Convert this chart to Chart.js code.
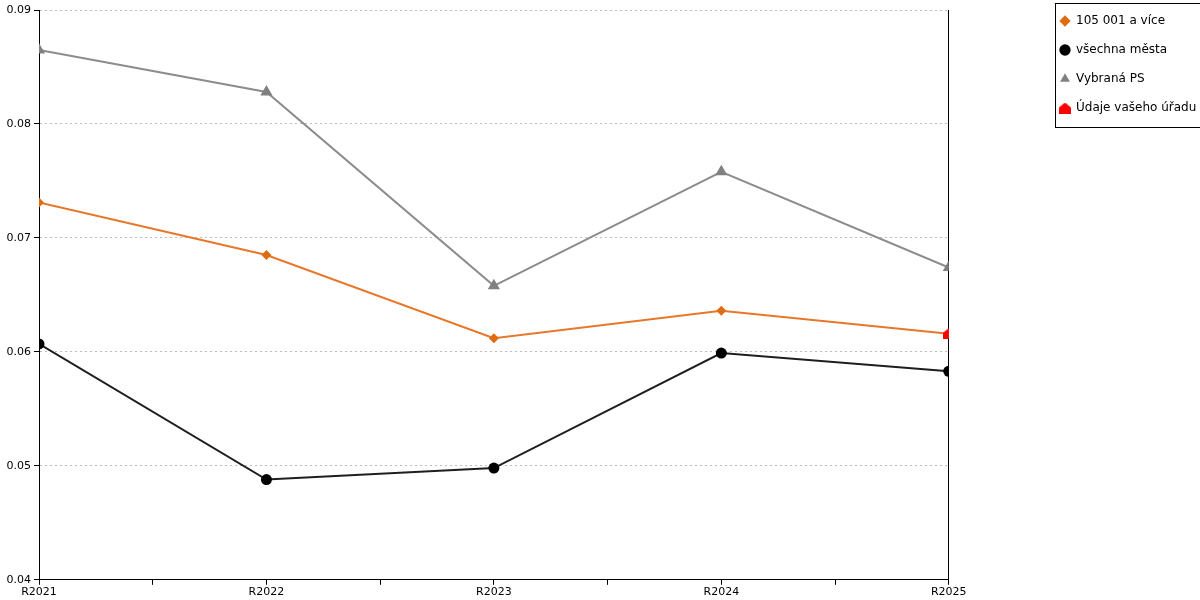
<!DOCTYPE html>
<html>
<head>
<meta charset="utf-8">
<script src="https://cdn.jsdelivr.net/npm/chart.js@4.4.1/dist/chart.umd.min.js"></script>
<style>
  html, body { margin: 0; padding: 0; background: #fff; }
  #wrap { width: 1200px; height: 600px; }
</style>
</head>
<body>
<div id="wrap"><canvas id="chart"></canvas></div>
<script>
// data
const years = ['R2021', 'R2022', 'R2023', 'R2024', 'R2025'];
const bigCities = [0.0731, 0.0685, 0.0612, 0.0636, 0.0616];
const allCities = [0.0607, 0.0488, 0.0498, 0.0599, 0.0583];
const selectedPS = [0.0865, 0.0828, 0.0658, 0.0758, 0.0674];
const yourOffice = [null, null, null, null, 0.0616];
const yTicks = [0.04, 0.05, 0.06, 0.07, 0.08, 0.09];

// little red "house" marker
function houseMarker() {
  const c = document.createElement('canvas');
  c.width = 12; c.height = 11;
  const g = c.getContext('2d');
  g.fillStyle = '#ff0000';
  g.beginPath();
  g.moveTo(0, 5); g.lineTo(6, 0); g.lineTo(12, 5); g.lineTo(12, 11); g.lineTo(0, 11);
  g.closePath(); g.fill();
  return c;
}

const pts = arr => arr.map((v, i) => ({ x: i, y: v }));

// move the legend to where the reference has it and frame it
const legendBox = {
  id: 'legendBox',
  beforeDraw(chart) {
    const lg = chart.legend;
    const dx = 1043 - lg.left, dy = -2 - lg.top;
    lg.left += dx; lg.right += dx; lg.top += dy; lg.bottom += dy;
    lg.legendHitBoxes.forEach(b => { b.left += dx; b.top += dy; });
  },
  afterDraw(chart) {
    const ctx = chart.ctx;
    ctx.save();
    ctx.strokeStyle = '#000';
    ctx.lineWidth = 1;
    ctx.strokeRect(1055.5, 3.5, 1142, 124);
    ctx.restore();
  }
};

Chart.defaults.font.family = '"DejaVu Sans", Verdana, sans-serif';
Chart.defaults.font.size = 11;
Chart.defaults.color = '#000';

new Chart(document.getElementById('chart'), {
  type: 'line',
  data: {
    datasets: [
      { label: '105 001 a více', data: pts(bigCities), borderColor: '#e8772a', backgroundColor: '#e06c12',
        pointStyle: 'rectRot', pointRadius: 5, order: 2 },
      { label: 'všechna města', data: pts(allCities), borderColor: '#1e1e1e', backgroundColor: '#000',
        pointStyle: 'circle', pointRadius: 5.5, order: 3 },
      { label: 'Vybraná PS', data: pts(selectedPS), borderColor: '#8c8c8c', backgroundColor: '#808080',
        pointStyle: 'triangle', pointRadius: 7, order: 4 },
      { label: 'Údaje vašeho úřadu', data: pts(yourOffice), borderColor: '#ff0000', backgroundColor: '#ff0000',
        pointStyle: houseMarker(), showLine: false, order: 1 }
    ]
  },
  options: {
    responsive: true,
    maintainAspectRatio: false,
    animation: false,
    layout: { padding: { top: 10, right: 2 } },
    datasets: { line: { borderWidth: 2, pointBorderWidth: 0 } },
    elements: { line: { tension: 0 } },
    plugins: {
      tooltip: { enabled: false },
      legend: {
        position: 'right',
        align: 'start',
        labels: {
          usePointStyle: true,
          boxWidth: 10,
          boxHeight: 8,
          padding: 17,
          color: '#000',
          font: { size: 12 },
          sort: (a, b) => a.datasetIndex - b.datasetIndex
        }
      }
    },
    scales: {
      x: {
        type: 'linear',
        min: 0,
        max: years.length - 1,
        afterBuildTicks: s => { s.ticks = []; for (let v = 0; v <= years.length - 1; v += 0.5) s.ticks.push({ value: v }); },
        ticks: {
          autoSkip: false, maxRotation: 0, padding: 1,
          callback: v => Number.isInteger(v) ? years[v] : ''
        },
        grid: { drawOnChartArea: false, tickColor: '#000', tickLength: 5 },
        border: { color: '#000' }
      },
      y: {
        min: 0.04,
        max: 0.09,
        afterBuildTicks: s => { s.ticks = yTicks.map(v => ({ value: v })); },
        afterFit: s => { s.width = 39; },
        ticks: { padding: 3, callback: v => v.toFixed(2) },
        grid: { color: '#bdbdbd', tickColor: '#000', tickLength: 5, tickBorderDash: [0, 0] },
        border: { color: '#000', dash: [2, 3] }
      },
      y2: {
        position: 'right',
        min: 0.04,
        max: 0.09,
        ticks: { display: false },
        grid: { drawOnChartArea: false, drawTicks: false },
        border: { color: '#000' },
        afterFit: s => { s.width = 86; }
      }
    }
  },
  plugins: [legendBox]
});
</script>
</body>
</html>
